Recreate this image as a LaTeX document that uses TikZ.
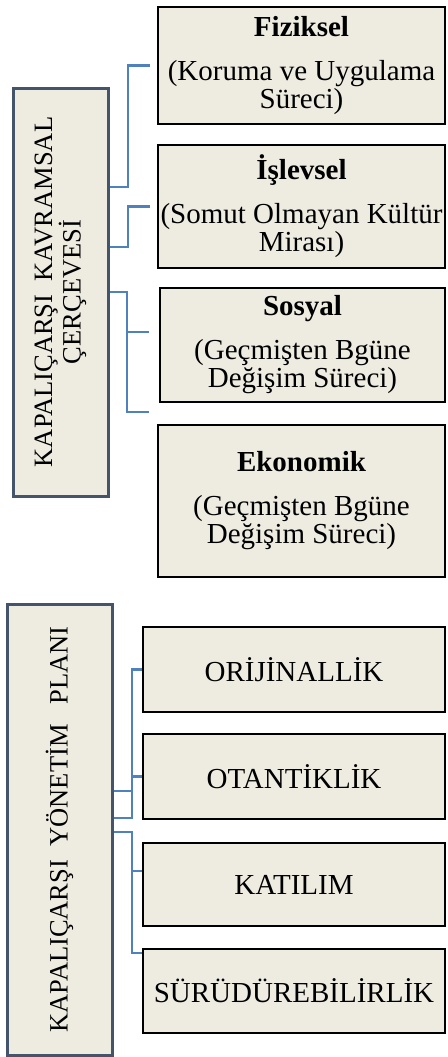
\documentclass[tikz,border=0pt]{standalone}
\usepackage{fontspec}
\setmainfont{Liberation Serif}
\usetikzlibrary{calc}
\definecolor{boxfill}{HTML}{EEECE1}
\definecolor{slate}{HTML}{44546A}
\definecolor{conn}{HTML}{4F81BD}
\begin{document}
\begin{tikzpicture}[x=1pt,y=-1pt,
  catbox/.style={draw=black, line width=2.6pt, fill=boxfill, inner sep=1pt, align=center, font=\fontsize{29}{28}\selectfont},
  rootbox/.style={draw=slate, line width=3pt, fill=boxfill, rotate=90, align=center, inner sep=0pt, font=\fontsize{26.5}{26}\selectfont},
  link/.style={draw=conn, line width=2.4pt}]
\useasboundingbox[fill=white] (0,0) rectangle (447,1057);

% ---- top group ----
\node[rootbox, minimum width=408pt, minimum height=95pt] (lt) at (60.5,292) {KAPALIÇARŞI\ \ KAVRAMSAL\\ÇERÇEVESİ};

\node[catbox, minimum width=287pt, minimum height=117pt] (fz) at (301.5,65.5) {\textbf{Fiziksel}\\[16pt](Koruma ve Uygulama\\Süreci)};
\node[catbox, minimum width=287pt, minimum height=123pt] (is) at (301.5,206.5) {\textbf{İşlevsel}\\[16pt](Somut Olmayan Kültür\\Mirası)};
\node[catbox, minimum width=285pt, minimum height=114pt] (so) at (302.5,345) {\textbf{Sosyal}\\[16pt](Geçmişten Bgüne\\Değişim Süreci)};
\node[catbox, minimum width=287pt, minimum height=152pt] (ek) at (301.5,501) {\textbf{Ekonomik}\\[16pt](Geçmişten Bgüne\\Değişim Süreci)};

\coordinate (fzend) at ($(fz.west)+(-7,0)$);
\coordinate (isend) at ($(is.west)+(-7,0)$);
\coordinate (soend) at ($(so.west)+(-10,-13)$);
\coordinate (ekend) at ($(ek.north west)+(-8,-12)$);

\draw[link] (lt.south |- 0,187) -| ($(fzend)+(-22,0)$) -- (fzend);
\draw[link] (lt.south |- 0,247) -| ($(isend)+(-22,0)$) -- (isend);
\draw[link] (lt.south |- 0,292) -| ($(ekend)+(-22,0)$) -- (ekend);
\draw[link] ($(soend)+(-22,0)$) -- (soend);

% ---- bottom group ----
\node[rootbox, minimum width=451pt, minimum height=105pt] (lb) at (59.5,829.5) {KAPALIÇARŞI\ \ YÖNETİM\ \ \ PLANI};

\node[catbox, minimum width=302pt, minimum height=85pt] (orj) at (294,669.5) {ORİJİNALLİK};
\node[catbox, minimum width=302pt, minimum height=85pt] (ota) at (294,776.5) {OTANTİKLİK};
\node[catbox, minimum width=302pt, minimum height=83pt] (kat) at (294,884.5) {KATILIM};
\node[catbox, minimum width=302pt, minimum height=84pt] (sur) at (294,991) {SÜRÜDÜREBİLİRLİK};

\coordinate (katend) at ($(kat.west)+(0,-13.5)$);
\coordinate (surend) at ($(sur.west)+(0,-38)$);

\draw[link] (lb.south |- 0,791) -| ($(orj.west)+(-10,0)$) -- (orj.west);
\draw[link] (lb.south |- 0,818) -| ($(ota.west)+(-10,0)$) -- (ota.west);
\draw[link] (lb.south |- 0,832) -| ($(surend)+(-10,0)$) -- (surend);
\draw[link] ($(katend)+(-10,0)$) -- (katend);
\end{tikzpicture}
\end{document}
